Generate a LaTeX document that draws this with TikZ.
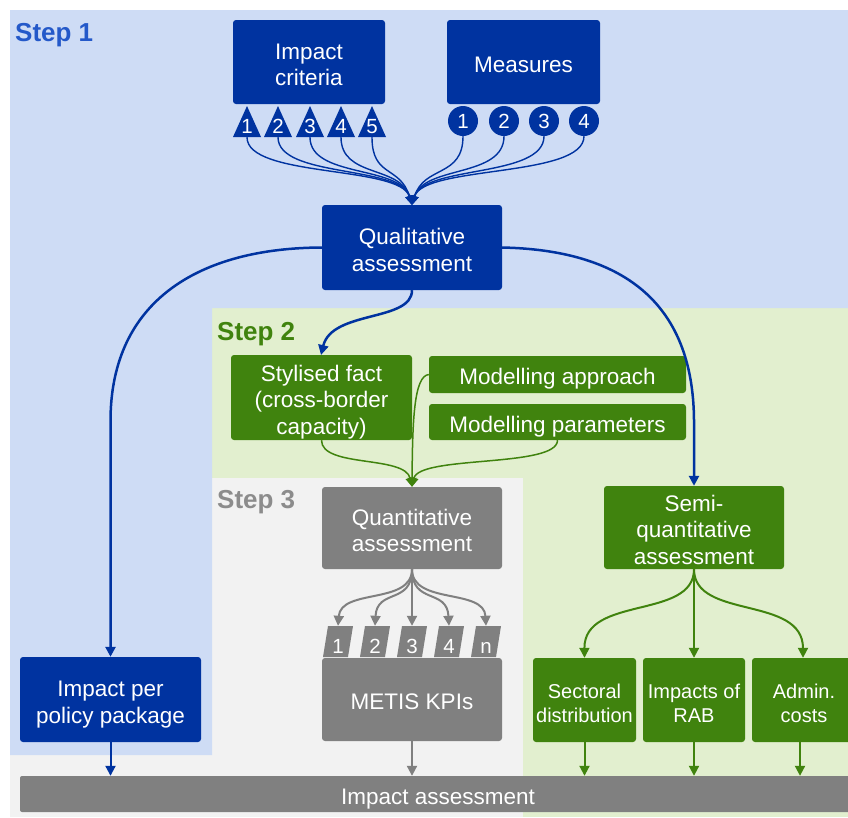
\documentclass[tikz,border=0pt]{standalone}
\usepackage{fontspec}
\setmainfont{Liberation Sans}
\usetikzlibrary{arrows.meta}

\definecolor{blueBg}{RGB}{206,220,245}
\definecolor{dblue}{RGB}{0,51,160}
\definecolor{stepblue}{RGB}{36,89,201}
\definecolor{greenBg}{RGB}{226,239,207}
\definecolor{dgreen}{RGB}{64,131,14}
\definecolor{greyBg}{RGB}{242,242,242}
\definecolor{dgrey}{RGB}{128,128,128}
\definecolor{stepgrey}{RGB}{140,140,140}

% extra room above the first line of a box label
\newcommand\toplift{\rule{0pt}{20.5pt}}

\begin{document}
\begin{tikzpicture}[x=1pt,y=-1pt,
  box/.style={rounded corners=3pt, inner sep=0pt, align=center, text=white,
    text depth=0pt, execute at begin node={\toplift},
    font=\fontsize{22.5}{26.5}\selectfont},
  bluebox/.style={box, fill=dblue},
  greenbox/.style={box, fill=dgreen},
  greybox/.style={box, fill=dgrey},
  smallbox/.style={greenbox, font=\fontsize{20}{23.5}\selectfont},
  steplabel/.style={anchor=west, inner sep=0pt, text depth=0pt,
    font=\fontsize{26}{30}\selectfont\bfseries},
  numtxt/.style={inner sep=0pt, text=white, font=\fontsize{20.5}{24}\selectfont,
    text height=23pt, text depth=0pt, minimum height=31pt, minimum width=26pt},
  numcirc/.style={circle, fill=dblue, inner sep=0pt, minimum size=30pt, text=white,
    font=\fontsize{20.5}{24}\selectfont},
  barrow/.style={draw=dblue, line width=2.5pt, -{Triangle[length=10pt,width=10pt]}},
  fan/.style={draw=dblue, line width=1.4pt, -{Triangle[length=9pt,width=8pt]}},
  garrow/.style={draw=dgreen, line width=1.5pt, -{Triangle[length=9pt,width=9pt]}},
  garrowb/.style={draw=dgreen, line width=2pt, -{Triangle[length=10pt,width=10pt]}},
  grarrow/.style={draw=dgrey, line width=2pt, -{Triangle[length=10pt,width=10pt]}},
]
\clip (0,0) rectangle (848,817);
\fill[white] (0,0) rectangle (848,817);

% stage backgrounds
\fill[greenBg] (212,308) rectangle (848,817);
\fill[greyBg] (10,478) rectangle (523,817);
\fill[blueBg] (10,10) -- (848,10) -- (848,308) -- (212,308) -- (212,755) -- (10,755) -- cycle;

\node[steplabel, text=stepblue] (s1) at (15,32) {Step 1};
\node[steplabel, text=dgreen] (s2) at (217,331) {Step 2};
\node[steplabel, text=stepgrey] (s3) at (217,499) {Step 3};

% step 1
\node[bluebox, minimum width=152pt, minimum height=84pt] (ic) at (309,62) {\toplift Impact\\criteria};
\node[bluebox, minimum width=153pt, minimum height=84pt] (ms) at (523.5,62) {Measures};
\node[bluebox, minimum width=180pt, minimum height=85pt] (qa) at (412,247.5) {\toplift Qualitative\\assessment};
\node[bluebox, minimum width=181pt, minimum height=85pt] (ipp) at (110.5,699.5) {\toplift Impact per\\policy package};

\foreach \i/\x in {1/247,2/278,3/310,4/341,5/372}{
  \fill[dblue] (\x-14,137) -- (\x,106) -- (\x+14,137) -- cycle;
  \node[numtxt] (t\i) at (\x,121.5) {\i};
  \draw[fan] (t\i.south) .. controls (\x,178) and (400,165) .. (qa.north);
}
\foreach \i/\x in {1/463,2/504,3/544,4/584}{
  \node[numcirc] (m\i) at (\x,121) {\i};
  \draw[fan] (m\i.south) .. controls (\x,178) and (424,165) .. (qa.north);
}

% step 2
\node[greenbox, minimum width=181pt, minimum height=85pt] (sf) at (321.5,397.5) {\toplift Stylised fact\\(cross-border\\capacity)};
\node[greenbox, minimum width=257pt, minimum height=37pt] (mapp) at (557.5,374.5) {Modelling approach};
\node[greenbox, minimum width=257pt, minimum height=36pt] (mpar) at (557.5,422) {Modelling parameters};
\node[greenbox, minimum width=180pt, minimum height=83pt] (sqa) at (694,527.5) {\toplift Semi-\\quantitative\\assessment};
\node[smallbox, minimum width=103pt, minimum height=84pt] (sd) at (584.5,700) {\toplift Sectoral\\distribution};
\node[smallbox, minimum width=102pt, minimum height=84pt] (rab) at (694,700) {\toplift Impacts of\\RAB};
\node[smallbox, minimum width=104pt, minimum height=84pt] (adm) at (804,700) {\toplift Admin.\\costs};

% step 3
\node[greybox, minimum width=180pt, minimum height=82pt] (qnt) at (412,528) {\toplift Quantitative\\assessment};
\node[greybox, minimum width=180pt, minimum height=83pt] (metis) at (412,699.5) {METIS KPIs};
\foreach \i/\x/\l in {1/338/1,2/375/2,3/412/3,4/449/4,5/486/n}{
  \fill[dgrey] (\x-15,657) -- (\x+10,657) -- (\x+15,626) -- (\x-10,626) -- cycle;
  \node[numtxt] (k\i) at (\x,641.5) {\l};
}

% result bar
\node[greybox, rounded corners=2pt, minimum width=836pt, minimum height=36pt] (ia) at (438,794) {Impact assessment};

% connectors from the qualitative assessment
\draw[barrow] (qa.west) .. controls (200,248) and (111,300) .. (110.5,420) -- (ipp.north);
\draw[barrow] (qa.east) .. controls (620,250) and (693,300) .. (694,420) -- (sqa.north);
\draw[barrow] (qa.south) .. controls (412,322) and (332,310) .. (321,355);

% step 2 inputs into the quantitative assessment
\draw[garrow] (sf.south) .. controls (321.5,468) and (405,455) .. (qnt.north);
\draw[garrow] (mpar.south) .. controls (557.5,468) and (419,455) .. (qnt.north);
\draw[garrow] (mapp.west) .. controls (414,376) and (412.5,420) .. (qnt.north);

% KPI fan
\draw[grarrow] (qnt.south) .. controls (412,605) and (341,588) .. (k1.north);
\draw[grarrow] (qnt.south) .. controls (412,605) and (377,588) .. (k2.north);
\draw[grarrow] (qnt.south) -- (k3.north);
\draw[grarrow] (qnt.south) .. controls (412,605) and (447,588) .. (k4.north);
\draw[grarrow] (qnt.south) .. controls (412,605) and (484,588) .. (k5.north);

% semi-quantitative fan
\draw[garrowb] (sqa.south) .. controls (694,620) and (584,595) .. (sd.north);
\draw[garrowb] (sqa.south) -- (rab.north);
\draw[garrowb] (sqa.south) .. controls (694,620) and (803,595) .. (adm.north -| 803,0);

% into the impact assessment
\draw[barrow, line width=2pt] (ipp.south) -- (ipp.south |- ia.north);
\draw[grarrow] (metis.south) -- (metis.south |- ia.north);
\draw[garrowb] (sd.south) -- (sd.south |- ia.north);
\draw[garrowb] (rab.south) -- (rab.south |- ia.north);
\draw[garrowb] (adm.south -| 800,0) -- (800,0 |- ia.north);
\end{tikzpicture}
\end{document}
